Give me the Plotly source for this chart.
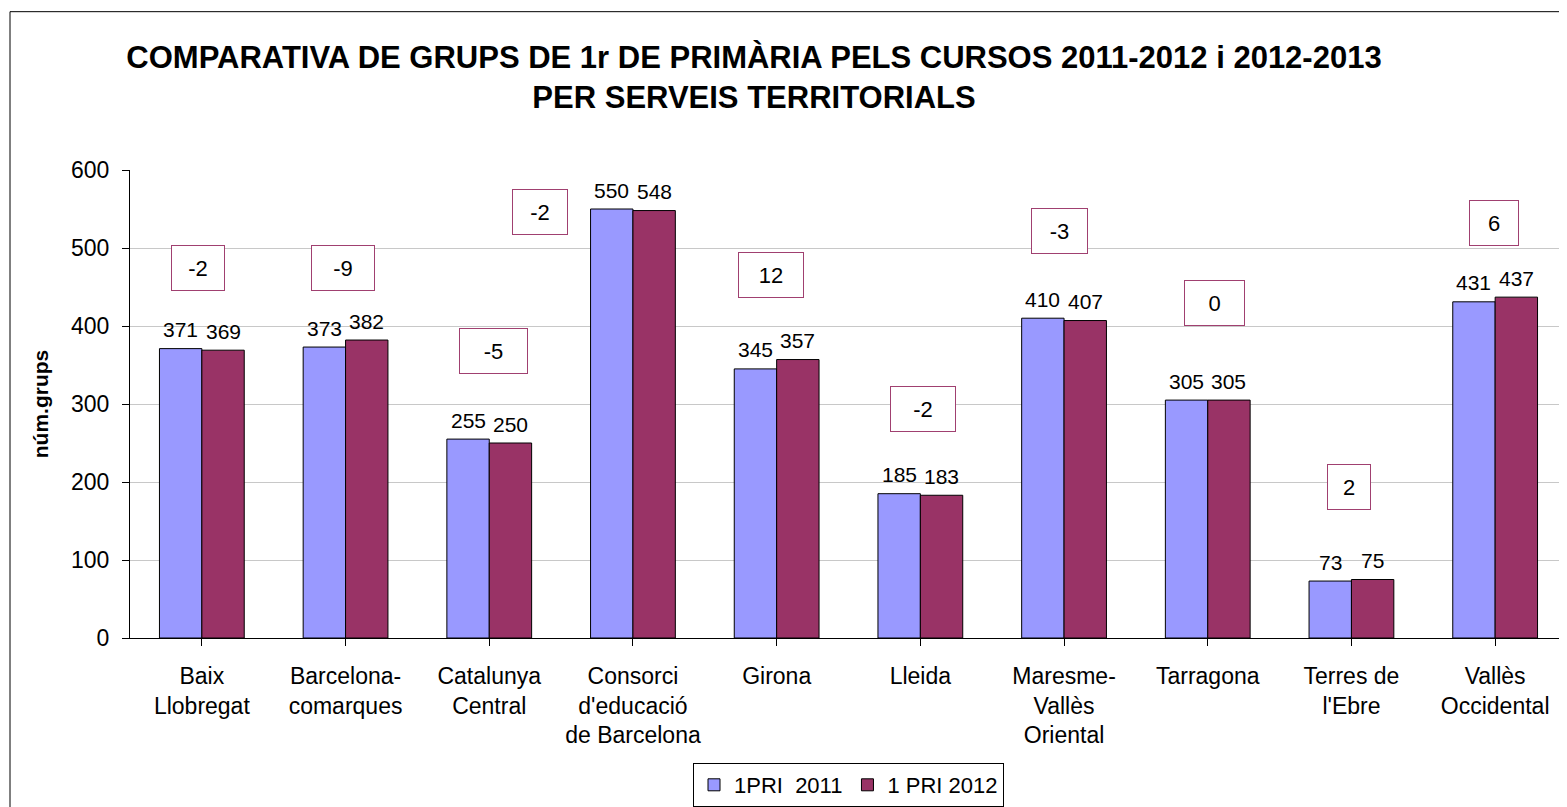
import plotly.graph_objects as go

categories = ["Baix<br>Llobregat", "Barcelona-<br>comarques", "Catalunya<br>Central",
              "Consorci<br>d'educació<br>de Barcelona", "Girona", "Lleida",
              "Maresme-<br>Vallès<br>Oriental", "Tarragona", "Terres de<br>l'Ebre", "Vallès<br>Occidental"]
groups_2011 = [371, 373, 255, 550, 345, 185, 410, 305, 73, 431]
groups_2012 = [369, 382, 250, 548, 357, 183, 407, 305, 75, 437]
diff_labels = ["-2", "-9", "-5", "-2", "12", "-2", "-3", "0", "2", "6"]
series_names = ["1PRI  2011", "1 PRI 2012"]
y_ticks = [0, 100, 200, 300, 400, 500, 600]

# positions of the difference boxes (category index, value) and box widths (px)
box_x = [-0.03, 0.98, 2.03, 2.35, 3.96, 5.02, 5.97, 7.05, 7.98, 8.99]
box_y = [475, 475, 368, 546, 465, 294, 522, 430, 193, 532]
box_w = [44, 54, 59, 46, 56, 56, 47, 51, 34, 40]

FONT = "Liberation Sans, Arial, sans-serif"
idx = list(range(len(categories)))

# page offset (body margin of 8px)
W, H = 1559, 799
BARGAP = 0.41
half = (1 - BARGAP) / 4  # offset of each bar centre from category centre

fig = go.Figure()
fig.add_trace(go.Bar(x=idx, y=groups_2011, name=series_names[0],
                     marker=dict(color="#9999FF", line=dict(color="#000000", width=1))))
fig.add_trace(go.Bar(x=idx, y=groups_2012, name=series_names[1],
                     marker=dict(color="#993366", line=dict(color="#000000", width=1))))

annotations = []
for i in idx:
    for vals, sgn in ((groups_2011, -1), (groups_2012, 1)):
        annotations.append(dict(x=i + sgn * half, y=vals[i], xref="x", yref="y",
                                text=str(vals[i]), showarrow=False, yanchor="middle",
                                yshift=19, font=dict(size=21, family=FONT, color="black")))
for i, lab in enumerate(diff_labels):
    annotations.append(dict(x=box_x[i], y=box_y[i], xref="x", yref="y", text=lab,
                            showarrow=False, font=dict(size=22, family=FONT, color="black"),
                            bordercolor="#A04070", borderwidth=1, bgcolor="white",
                            width=box_w[i], height=36, borderpad=4))

fig.update_layout(
    width=W, height=H,
    margin=dict(l=122, r=0, t=162, b=167),
    paper_bgcolor="white", plot_bgcolor="white",
    font=dict(family=FONT, size=22, color="black"),
    title=dict(text="<b>COMPARATIVA DE GRUPS DE 1r DE PRIMÀRIA PELS CURSOS 2011-2012 i 2012-2013<br>PER SERVEIS TERRITORIALS</b>",
               x=746 / W, xanchor="center", y=1 - 60 / H, yanchor="middle",
               font=dict(size=31, family=FONT, color="black")),
    barmode="group", bargap=BARGAP, bargroupgap=0,
    showlegend=True,
    legend=dict(orientation="h", x=0.5, xanchor="center", y=-0.268, yanchor="top",
                bordercolor="#000000", borderwidth=1, bgcolor="white",
                font=dict(size=22, family=FONT), traceorder="normal"),
    xaxis=dict(tickmode="array", tickvals=idx, ticktext=categories, range=[-0.5, 9.5],
               showline=True, linecolor="#000000", linewidth=1,
               ticks="outside", ticklen=7, tickcolor="#000000", ticklabelstandoff=10,
               showgrid=False, zeroline=False, tickfont=dict(size=23)),
    yaxis=dict(range=[0, 600], tickvals=y_ticks, showline=True, linecolor="#000000",
               linewidth=1, ticks="outside", ticklen=7, tickcolor="#000000",
               ticklabelstandoff=8,
               showgrid=True, gridcolor="#C8C8C8", gridwidth=1, zeroline=False,
               tickfont=dict(size=23),
               title=dict(text="<b>núm.grups</b>", font=dict(size=21), standoff=16)),
    annotations=annotations,
    shapes=[
        dict(type="rect", xref="paper", yref="paper",
             x0=(10 - 130) / 1437, x1=1.02, y0=-0.6, y1=(640 - 11) / 470,
             line=dict(color="#000000", width=1), fillcolor="rgba(0,0,0,0)"),
    ],
)

fig.write_html("out.html")
